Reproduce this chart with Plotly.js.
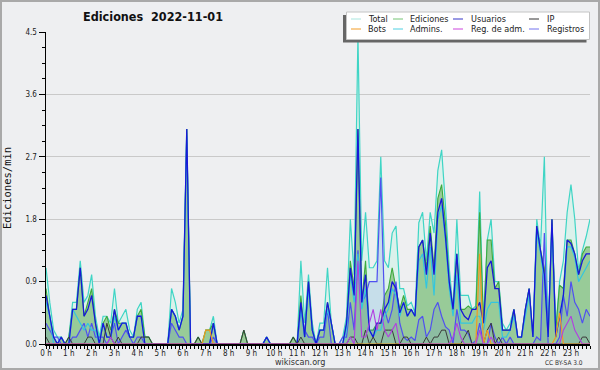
<!DOCTYPE html>
<html><head><meta charset="utf-8">
<script src="https://cdn.plot.ly/plotly-3.0.1.min.js"></script>
<style>
html,body{margin:0;padding:0;background:#eeeff1;}
#wrap{position:relative;width:600px;height:370px;}
#chart{width:600px;height:370px;}
#frame{position:absolute;left:0;top:0;width:600px;height:370px;box-sizing:border-box;border:2px solid #a9a9a9;pointer-events:none;}
</style></head><body>
<div id="wrap"><div id="chart"></div><div id="frame"></div></div>
<script>
// 10-minute bins, values in edits per minute, 2022-11-01
const hourLabels = ["0 h","1 h","2 h","3 h","4 h","5 h","6 h","7 h","8 h","9 h","10 h","11 h","12 h","13 h","14 h","15 h","16 h","17 h","18 h","19 h","20 h","21 h","22 h","23 h"];
const hourTicks = [0,1,2,3,4,5,6,7,8,9,10,11,12,13,14,15,16,17,18,19,20,21,22,23];

const total = [
1.1,0.6,0.2,0.1,0.1,0, 0.1,0.6,0.6,1.2,0.6,0.7, 1.0,0.4,0.1,0.4,0.4,0.3, 0.8,0.3,0.4,0.5,0.2,0.1,
0.5,0.6,0.1,0.1,0,0, 0,0,0,0.8,0.6,0.3, 0.5,3.1,0,0,0.1,0, 0.2,0.2,0.4,0,0,0,
0,0,0,0,0.2,0, 0,0,0,0,0.1,0, 0,0,0,0,0,0.1, 0,1.2,0.3,1.0,0.3,0,
0.3,0.3,1.1,0.3,0,0, 0.1,0.4,1.8,1.0,4.45,1.2, 1.9,1.1,1.1,1.2,2.7,1.2, 1.1,1.6,1.7,0.8,0.8,0.55,
0.6,0.45,1.75,1.9,1.2,1.9, 1.6,2.5,2.8,2.0,1.1,0.5, 1.8,0.7,0.7,0.7,0.5,0.55, 2.2,0.3,1.5,1.8,0.9,0.9,
0.3,0.2,0.3,0.5,0.1,0.1, 0.5,0.8,0.1,1.8,1.4,2.7, 0.1,1.8,0.2,0.9,1.2,1.9, 2.3,1.8,1.05,1.35,1.55,1.8];

const ediciones = [
0.8,0.4,0.1,0,0.1,0, 0.1,0.5,0.5,1.1,0.4,0.6, 0.8,0.3,0,0.3,0.4,0.2, 0.5,0.3,0.3,0.3,0.1,0.1,
0.4,0.5,0.1,0.1,0,0, 0,0,0,0.5,0.4,0.2, 0.4,3.1,0,0,0.1,0, 0.2,0.2,0.3,0,0,0,
0,0,0,0,0.2,0, 0,0,0,0,0.1,0, 0,0,0,0,0,0.1, 0,0.7,0.1,0.9,0.2,0,
0.2,0.2,0.6,0.3,0,0, 0,0.3,1.2,0.8,3.1,0.6, 1.2,0.2,0.2,0.3,0.3,0.7, 0.8,1.1,0.8,0.5,0.7,0.5,
0.5,0.4,1.4,1.5,1.1,1.7, 1.1,2.1,2.3,1.75,0.9,0.5, 1.3,0.5,0.5,0.55,0.5,0.5, 1.9,0.3,1.5,1.5,0.8,0.9,
0.2,0.2,0.2,0.5,0.1,0.1, 0.5,0.8,0.1,1.7,1.35,1.1, 0.1,1.8,0.2,0.85,0.8,1.5, 1.5,1.3,1.0,1.3,1.4,1.4];

const usuarios = [
0.7,0.4,0.1,0,0.1,0, 0,0.5,0.5,1.1,0.4,0.5, 0.7,0.3,0,0.3,0.1,0.1, 0.5,0.2,0.3,0.3,0.1,0.1,
0.4,0.4,0,0,0,0, 0,0,0,0.5,0.4,0.2, 0.4,3.1,0,0,0,0, 0,0,0.3,0,0,0,
0,0,0,0,0,0, 0,0,0,0,0.1,0, 0,0,0,0,0,0, 0,0.6,0.1,0.9,0.2,0,
0.2,0.2,0.6,0.3,0,0, 0,0.3,1.1,0.7,3.1,0.6, 1.0,0.2,0.1,0.3,0.3,0.5, 0.6,0.9,0.8,0.45,0.6,0.4,
0.5,0.4,1.4,1.5,1.0,1.6, 1.0,1.9,2.1,1.55,0.9,0.5, 1.3,0.5,0.4,0.35,0.5,0.5, 0.6,0.3,1.1,1.2,0.8,0.8,
0.2,0.2,0.2,0.5,0.1,0.1, 0.5,0.8,0.1,1.7,1.35,1.0, 0.1,1.8,0.1,0.4,0.7,1.5, 1.45,1.3,1.0,1.2,1.3,1.3];

const ip = [
0.1,0,0,0,0,0, 0.1,0,0,0,0,0.1, 0.1,0,0,0,0.3,0.1, 0,0.1,0,0,0,0,
0,0.1,0.1,0.1,0,0, 0,0,0,0,0,0, 0,0,0,0,0.1,0, 0,0,0,0,0,0,
0,0,0,0,0.2,0, 0,0,0,0,0,0, 0,0,0,0,0,0.1, 0,0.1,0,0,0,0,
0,0,0,0,0,0, 0,0,0.1,0.1,0,0, 0.2,0,0.1,0,0,0.2, 0.2,0.2,0,0,0.1,0.1,
0,0,0,0,0.1,0, 0.1,0.1,0.2,0.2,0,0, 0,0,0.1,0.2,0,0, 0,0,0.2,0.3,0,0.1,
0,0,0,0,0,0, 0,0,0,0,0,0, 0,0,0,0,0,0, 0,0,0,0.1,0.1,0];

const bots = [
0,0,0,0,0,0, 0,0,0,0,0,0, 0,0,0,0,0,0, 0,0,0,0,0,0,
0,0,0,0,0,0, 0,0,0,0,0,0, 0,0,0,0,0,0, 0.2,0.2,0,0,0,0,
0,0,0,0,0,0, 0,0,0,0,0,0, 0,0,0,0,0,0, 0,0,0,0,0,0,
0,0,0,0,0,0, 0,0,0,0,0,0, 0,0,0,0,0,0, 0,0,0,0,0,0,
0,0,0,0,0,0, 0,0,0,0,0,0, 0,0,0,0,0,0, 1.3,0,0.2,0,0,0,
0,0,0,0,0,0, 0,0,0,0,0,0, 0,0,0.1,0.45,0,0, 0,0,0,0,0,0];

const admins = [
0.6,0.4,0,0,0.1,0, 0,0.5,0.4,0.3,0.2,0.3, 0.2,0.2,0,0.3,0.1,0.1, 0.4,0.2,0.3,0.3,0.1,0.1,
0.4,0.4,0,0,0,0, 0,0,0,0.5,0.4,0.2, 0.4,3.0,0,0,0,0, 0,0,0.3,0,0,0,
0,0,0,0,0,0, 0,0,0,0,0.1,0, 0,0,0,0,0,0, 0,0.5,0.1,0.8,0.2,0,
0.2,0.2,0.5,0.3,0,0, 0,0.2,1.0,0.6,1.3,0.5, 0.8,0.2,0.1,0.2,0.2,0.4, 0.5,0.8,0.7,0.4,0.6,0.4,
0.5,0.4,1.2,1.3,0.8,1.4, 0.7,1.8,2.0,1.5,0.8,0.4, 1.0,0.3,0.3,0.3,0.3,0.4, 0.4,0.2,0.5,0.6,0.6,0.6,
0.1,0.1,0.2,0.4,0.1,0.1, 0.4,0.7,0.1,1.6,1.3,0.9, 0.1,1.7,0.1,0.4,0.7,1.4, 1.4,1.25,0.9,1.0,1.1,1.2];

const regAdm = [
0,0,0,0,0,0, 0,0,0,0,0,0, 0,0,0,0,0,0.1, 0,0,0,0,0,0,
0,0,0,0,0,0, 0,0,0,0,0,0, 0,0,0,0,0,0, 0,0,0,0,0,0,
0,0,0,0,0,0, 0,0,0,0,0,0, 0,0,0,0,0,0, 0,0,0,0,0,0,
0,0,0,0,0,0, 0,0,0.1,0,1.2,0.1, 0.1,0.3,0.5,0.2,0.5,0.2, 0.1,0.2,0.3,0,0,0,
0,0,0,0,0,0, 0,0,0,0,0,0.1, 0.3,0.1,0,0,0,0, 0.2,0,0,0.1,0,0,
0,0,0,0,0,0, 0,0,0,0,0,0, 0,0,0,0,0.2,0.3, 0.4,0.2,0.1,0,0,0];

const registros = [
0.3,0.2,0.1,0.1,0,0, 0,0.1,0.1,0.2,0.3,0.1, 0.3,0.1,0.1,0.1,0,0.1, 0.3,0,0.1,0.2,0.1,0,
0.1,0.1,0,0,0,0, 0,0,0,0.3,0.2,0.1, 0.1,0,0,0,0,0, 0,0,0.1,0,0,0,
0,0,0,0,0,0, 0,0,0,0,0,0, 0,0,0,0,0,0, 0,0.5,0.2,0.1,0.1,0,
0.1,0.1,0.5,0,0,0, 0.1,0.1,0.6,0.2,1.35,0.6, 0.7,0.9,0.9,0.9,2.4,0.5, 0.3,0.5,0.9,0.3,0.1,0.05,
0.1,0.05,0.35,0.4,0.1,0.2, 0.5,0.6,0.4,0.25,0.2,0, 0.5,0.2,0.2,0.15,0,0.05, 0.3,0,0,0.3,0.1,0,
0.1,0,0.1,0,0,0, 0,0,0,0.1,0.05,1.6, 0,0,0,0.1,0.7,0.4, 0.9,0.6,0.5,0.3,0.5,0.4];

const F = '"DejaVu Sans Condensed", "DejaVu Sans", sans-serif';
const hours = total.map((_, i) => i / 6);

function line(name, y, color, width, fill, fillcolor) {
  const t = {type:'scatter', mode:'lines', name:name, x:hours, y:y,
             line:{color:color, width:width, shape:'linear'}, hoverinfo:'skip'};
  if (fill) { t.fill = 'tozeroy'; t.fillcolor = fillcolor; }
  return t;
}

const data = [
  line('Total', total, '#3fd5c5', 1.2, true, '#dbf1eb'),
  line('Ediciones', ediciones, '#3daa3d', 1.1, true, '#98cb98'),
  line('Registros', registros, '#5050f0', 1.2, true, 'rgba(60,100,230,0.13)'),
  line('Admins.', admins, '#34c6de', 1.2),
  line('Usuarios', usuarios, '#1818d8', 1.3),
  line('IP', ip, '#3a3a3a', 1),
  line('Bots', bots, '#f29a20', 1.2),
  line('Reg. de adm.', regAdm, '#b23ee0', 1.1)
];

// legend (drawn in pixel positions converted to paper coordinates)
const L = 46, R = 590, T = 32, B = 344;
const px = x => (x - L) / (R - L);
const py = y => (B - y) / (B - T);
const legendNames = ['Total','Ediciones','Usuarios','IP','Bots','Admins.','Reg. de adm.','Registros'];
const legendColors = ['#a9e6df','#74c474','#3434c8','#333333','#f39c27','#4fd0e2','#cc44dd','#7272ee'];
const colLine = [351, 393, 453, 529];
const colText = [366, 408, 469, 545];
const rowY = [19, 29];

const shapes = [
  {type:'rect', xref:'paper', yref:'paper', x0:px(343), x1:px(586.5), y0:py(42.5), y1:py(15), fillcolor:'#666666', line:{width:0}, layer:'above'},
  {type:'rect', xref:'paper', yref:'paper', x0:px(346.5), x1:px(589.5), y0:py(39.5), y1:py(12), fillcolor:'#ffffff', line:{color:'#c4c4c4', width:1}, layer:'above'}
];
const annotations = [
  {text:'wikiscan.org', xref:'paper', yref:'paper', x:px(300), y:py(361.5), xanchor:'center', yanchor:'middle', showarrow:false, font:{family:F, size:9, color:'#333'}},
  {text:'CC BY-SA 3.0', xref:'paper', yref:'paper', x:px(585), y:py(362.5), xanchor:'right', yanchor:'middle', showarrow:false, font:{family:F, size:6.5, color:'#333'}}
];
legendNames.forEach((n, k) => {
  const c = k % 4, r = Math.floor(k / 4);
  shapes.push({type:'line', xref:'paper', yref:'paper', x0:px(colLine[c]), x1:px(colLine[c] + 10), y0:py(rowY[r]), y1:py(rowY[r]), line:{color:legendColors[k], width:1}, layer:'above'});
  annotations.push({text:n, xref:'paper', yref:'paper', x:px(colText[c]), y:py(rowY[r]), xanchor:'left', yanchor:'middle', showarrow:false, font:{family:F, size:9, color:'#222'}});
});

const layout = {
  width:600, height:370,
  margin:{l:L, r:600-R, t:T, b:370-B, pad:0},
  paper_bgcolor:'#eeeff1', plot_bgcolor:'#eeeff1',
  showlegend:false,
  title:{text:'Ediciones\u00a0\u00a02022-11-01', font:{family:F, size:12.5, color:'#111', weight:'bold'}, x:0.255, xanchor:'center', y:1 - 17/370, yanchor:'middle'},
  xaxis:{range:[0, 143/6], tickmode:'array', tickvals:hourTicks, ticktext:hourLabels,
         ticks:'outside', ticklen:3, tickwidth:1, tickcolor:'#000', ticklabelstandoff:-2,
         showline:true, linecolor:'#000', linewidth:1.5, showgrid:false, zeroline:false,
         tickfont:{family:F, size:8, color:'#222'},
         minor:{dtick:1/6, tick0:0, ticks:'outside', ticklen:3, tickcolor:'#000', tickwidth:1, showgrid:false},
         fixedrange:true, automargin:false},
  yaxis:{range:[0, 4.5], tick0:0, dtick:0.9, tickformat:'.1f',
         ticks:'outside', ticklen:6, tickwidth:1, tickcolor:'#000',
         showline:true, linecolor:'#000', linewidth:1.5, zeroline:false,
         showgrid:true, gridcolor:'#c9c9c9', gridwidth:1,
         tickfont:{family:F, size:8, color:'#222'},
         minor:{dtick:0.225, tick0:0, ticks:'outside', ticklen:3, tickcolor:'#000', tickwidth:1, showgrid:false},
         title:{text:'Ediciones/min', font:{family:'"DejaVu Sans Mono", monospace', size:10.5, color:'#111'}, standoff:12},
         fixedrange:true, automargin:false},
  shapes:shapes,
  annotations:annotations
};

Plotly.newPlot('chart', data, layout, {staticPlot:true, displayModeBar:false});
</script></body></html>
